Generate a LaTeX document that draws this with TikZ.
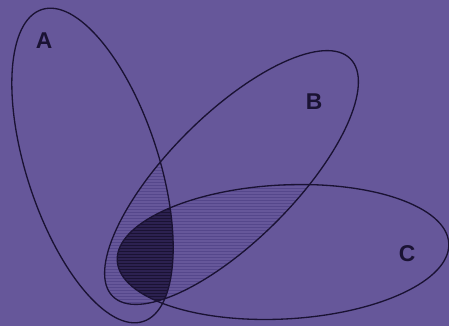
\documentclass[tikz,border=0pt]{standalone}
\usepackage{fontspec}
\setmainfont{Liberation Sans}
\usetikzlibrary{positioning}

\definecolor{bgpurple}{HTML}{66579A}
\definecolor{setink}{HTML}{1A1233}
\definecolor{hatchink}{HTML}{55478B}
\definecolor{coreink}{HTML}{2C2150}

% the three sets
\newcommand{\pathA}{(92.5,160.5) ellipse [x radius=164, y radius=66]}
\newcommand{\pathB}{(231.5,148.5) ellipse [x radius=168, y radius=63]}
\newcommand{\pathC}{(283,74) ellipse [x radius=166, y radius=67]}

\begin{document}
\begin{tikzpicture}[
    x=0.02cm, y=0.02cm,
    ellA/.style={rotate around={108:(92.5,160.5)}},
    ellB/.style={rotate around={45:(231.5,148.5)}},
    ellC/.style={rotate around={3:(283,74)}},
    setline/.style={draw=setink, line width=0.75pt},
    hatchline/.style={draw=hatchink, line width=0.3pt},
    setlabel/.style={font=\bfseries\fontsize{13}{15}\selectfont, text=setink}
  ]
  \fill[bgpurple] (0,0) rectangle (449,326);
  \useasboundingbox (0,0) rectangle (449,326);

  % A and B
  \begin{scope}
    \clip[ellA] \pathA;
    \clip[ellB] \pathB;
    \foreach \y in {0,3,...,200}
      \draw[hatchline] (90,\y) -- (200,\y);
  \end{scope}
  % B and C
  \begin{scope}
    \clip[ellB] \pathB;
    \clip[ellC] \pathC;
    \foreach \y in {0,3,...,200}
      \draw[hatchline] (100,\y) -- (360,\y);
  \end{scope}
  % A, B and C
  \begin{scope}
    \clip[ellA] \pathA;
    \clip[ellB] \pathB;
    \clip[ellC] \pathC;
    \fill[coreink] (90,0) rectangle (200,200);
    \foreach \y in {0,3,...,200}
      \draw[draw=setink, line width=0.3pt] (90,\y) -- (200,\y);
  \end{scope}

  \draw[setline, ellA] \pathA;
  \draw[setline, ellB] \pathB;
  \draw[setline, ellC] \pathC;

  \node[setlabel] (labA) at (44,285) {A};
  \node[setlabel] (labB) at (314,224) {B};
  \node[setlabel] (labC) at (407,72) {C};
\end{tikzpicture}
\end{document}
